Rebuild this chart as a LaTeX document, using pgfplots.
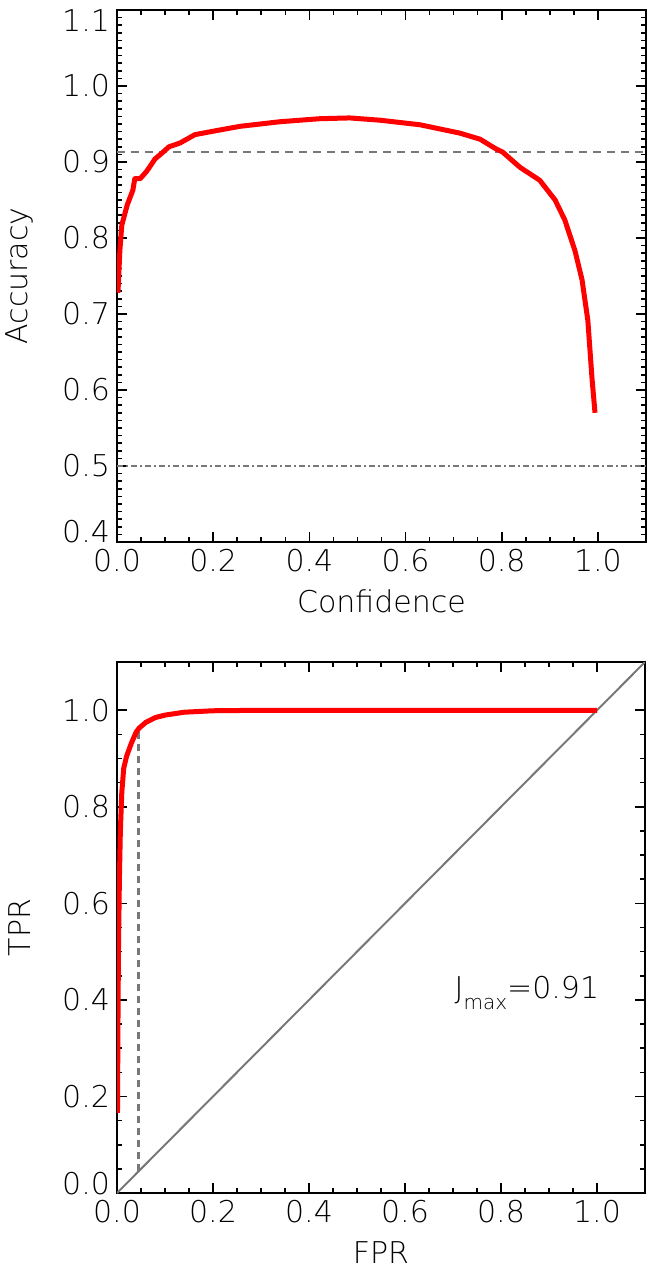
\documentclass[border=0pt]{standalone}
\usepackage{fontspec}
\setmainfont{DejaVu Sans}[UprightFont={* ExtraLight}]
\usepackage{pgfplots}
\pgfplotsset{compat=1.18}

\definecolor{refgray}{RGB}{120,120,120}

\pgfplotsset{
  idl/.style={
    scale only axis,
    axis line style={line width=0.9pt},
    tick style={black, line width=0.8pt},
    major tick length=5pt, minor tick length=2.5pt,
    tick align=inside,
    xtick pos=both, ytick pos=both,
    xticklabel pos=lower, yticklabel pos=left,
    font=\fontsize{15}{18}\selectfont,
    /pgf/number format/fixed,
    /pgf/number format/fixed zerofill,
    /pgf/number format/precision=1,
    /pgf/number format/assume math mode=true,
    xlabel style={at={(axis description cs:0.5,-0.112)}, anchor=center},
    ylabel style={at={(axis description cs:-0.184,0.5)}, anchor=center},
    xmin=0, xmax=1.1,
    xtick={0,0.2,0.4,0.6,0.8,1.0}, minor x tick num=3,
  }
}

\begin{document}
\begin{tikzpicture}
% top panel: accuracy vs confidence
\begin{axis}[idl, at={(58.5pt,-271pt)}, anchor=south west,
  width=264.5pt, height=266pt,
  ymin=0.4, ymax=1.1,
  ytick={0.4,0.5,0.6,0.7,0.8,0.9,1.0,1.1}, minor y tick num=9,
  yticklabels={\raisebox{5pt}[\height][\depth]{0.4},0.5,0.6,0.7,0.8,0.9,1.0,\raisebox{-5.5pt}[\height][\depth]{1.1}},
  xlabel={Confidence}, ylabel={Accuracy}]
\addplot[refgray, line width=1.2pt, dash pattern=on 4pt off 3pt] coordinates {(0,0.913) (1.1,0.913)};
\addplot[refgray, line width=1.2pt, dash pattern=on 3pt off 1.5pt on 1pt off 1.5pt] coordinates {(0,0.5) (1.1,0.5)};
\addplot[red, line width=2.5pt, line join=round] coordinates {
(0.002,0.728) (0.006,0.784) (0.010,0.817) (0.021,0.843) (0.033,0.863)
(0.037,0.878) (0.048,0.878) (0.062,0.888) (0.079,0.904) (0.094,0.912)
(0.108,0.920) (0.131,0.925) (0.162,0.936) (0.204,0.941) (0.256,0.947)
(0.339,0.953) (0.422,0.957) (0.484,0.958) (0.547,0.955) (0.630,0.949)
(0.713,0.938) (0.755,0.930) (0.786,0.918) (0.802,0.913) (0.838,0.893)
(0.879,0.876) (0.911,0.850) (0.931,0.824) (0.952,0.784) (0.967,0.745)
(0.979,0.692) (0.988,0.613) (0.994,0.570)
};
\end{axis}
% bottom panel: ROC curve
\begin{axis}[idl, at={(58.5pt,-596.5pt)}, anchor=south west,
  width=264pt, height=265.5pt,
  ymin=0, ymax=1.1,
  ytick={0,0.2,0.4,0.6,0.8,1.0}, minor y tick num=3,
  yticklabels={\raisebox{4.5pt}[\height][\depth]{0.0},0.2,0.4,0.6,0.8,1.0},
  xlabel={FPR}, ylabel={TPR}]
\addplot[refgray, line width=1pt] coordinates {(0,0) (1.1,1.1)};
\addplot[refgray, line width=1.2pt, dash pattern=on 3.5pt off 2.5pt] coordinates {(0.045,0.045) (0.045,0.962)};
\addplot[red, line width=2.5pt, line join=round] coordinates {
(0.001,0.166) (0.002,0.35) (0.003,0.50) (0.005,0.65) (0.007,0.75)
(0.010,0.83) (0.014,0.88) (0.020,0.905) (0.030,0.932) (0.040,0.955)
(0.046,0.963) (0.060,0.975) (0.080,0.985) (0.100,0.990) (0.140,0.996)
(0.200,0.999) (0.300,1.000) (1.000,1.000)
};
\node at (axis cs:0.854,0.414) {J\raisebox{-0.35em}{\fontsize{10}{12}\selectfont max}=0.91};
\end{axis}
\pgfresetboundingbox
\path[use as bounding box] (0,0) rectangle (324pt,-634pt);
\end{tikzpicture}
\end{document}
